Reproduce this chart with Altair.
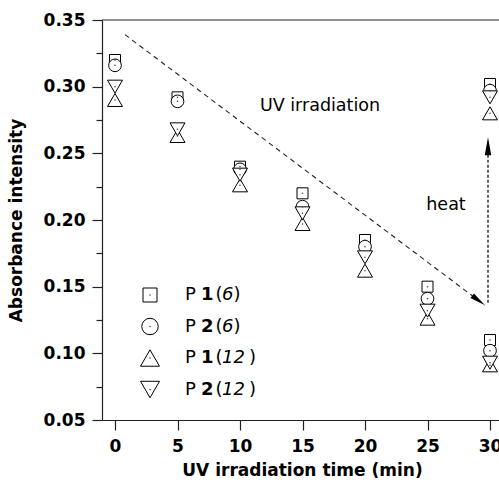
import math
import altair as alt
import pandas as pd

# Absorbance of the four samples during UV irradiation (0-30 min),
# followed by the recovered value after heating (last entry, also at 30 min)
time_min = [0, 5, 10, 15, 20, 25, 30, 30]
p1_6 = [0.320, 0.292, 0.240, 0.220, 0.185, 0.150, 0.110, 0.302]
p2_6 = [0.316, 0.289, 0.238, 0.210, 0.180, 0.141, 0.102, 0.297]
p1_12 = [0.290, 0.263, 0.226, 0.197, 0.162, 0.126, 0.091, 0.280]
p2_12 = [0.300, 0.268, 0.234, 0.205, 0.172, 0.132, 0.093, 0.292]

series_names = ["P1(6)", "P2(6)", "P1(12)", "P2(12)"]
series_values = [p1_6, p2_6, p1_12, p2_12]
legend_num = ["1", "2", "1", "2"]
legend_arm = ["6", "6", "12", "12"]

y_ticks = [0.05, 0.075, 0.10, 0.125, 0.15, 0.175, 0.20, 0.225, 0.25, 0.275, 0.30, 0.325, 0.35]
x_ticks = [0, 5, 10, 15, 20, 25, 30]

# ---- layout / style ----
FONT = "DejaVu Sans"
INK = "#222222"
PAD_L, PAD_T = 102, 20
W, H = 397, 400
X_DOM = [-1.04, 30.72]
Y_DOM = [0.05, 0.35]

shapes = ["square", "circle", "triangle-up", "triangle-down"]
plot_sizes = [121, 161, 225, 225]
legend_sizes = [196, 270, 361, 361]


def px_x(px):
    return X_DOM[0] + (px - PAD_L) / W * (X_DOM[1] - X_DOM[0])


def px_y(py):
    return Y_DOM[1] - (py - PAD_T) / H * (Y_DOM[1] - Y_DOM[0])


x_scale = alt.Scale(domain=X_DOM, nice=False, zero=False)
y_scale = alt.Scale(domain=Y_DOM, nice=False, zero=False)

major = "round(datum.value * 1000) % 50 === 0"

x_axis = alt.Axis(
    values=x_ticks, grid=False, tickSize=10, tickColor=INK, tickWidth=1.2,
    domainColor=INK, domainWidth=1.2, labelFont=FONT, labelFontSize=17,
    labelFontWeight="bold", labelColor="black", labelPadding=8,
    title="UV irradiation time (min)", titleFont=FONT, titleFontSize=17,
    titleFontWeight="bold", titleColor="black", titleX=200, titleY=50,
    titleAlign="center", titleBaseline="middle",
)
y_axis = alt.Axis(
    values=y_ticks, grid=False,
    tickSize={"condition": {"test": major, "value": 10}, "value": 6},
    labelExpr=f"{major} ? format(datum.value, '.2f') : ''",
    tickColor=INK, tickWidth=1.2, domainColor=INK, domainWidth=1.2,
    labelFont=FONT, labelFontSize=17, labelFontWeight="bold",
    labelColor="black", labelPadding=7,
    title="Absorbance intensity", titleFont=FONT, titleFontSize=17,
    titleFontWeight="bold", titleColor="black", titleX=-86, titleY=200,
    titleAngle=270, titleAlign="center", titleBaseline="middle",
)

X = lambda f: alt.X(f, type="quantitative", scale=x_scale, axis=x_axis)
Y = lambda f: alt.Y(f, type="quantitative", scale=y_scale, axis=y_axis)

layers = []

# top frame line
layers.append(
    alt.Chart(pd.DataFrame({"a": [0]})).mark_rule(color=INK, strokeWidth=1.2)
    .encode(x=alt.value(0), x2=alt.value(W), y=alt.value(0))
)

# dashed UV arrow (diagonal) and dotted heat arrow (vertical)
uv_start, uv_end = (0.8, 0.339), (29.6, 0.136)
heat_start, heat_end = (29.84, 0.138), (29.84, 0.262)
arrows = pd.DataFrame({
    "x": [uv_start[0], uv_end[0]], "y": [uv_start[1], uv_end[1]],
})
layers.append(
    alt.Chart(arrows).mark_line(color=INK, strokeWidth=1.1, strokeDash=[5, 4])
    .encode(x=X("x"), y=Y("y"))
)
heat_line = pd.DataFrame({
    "x": [heat_start[0], heat_end[0]], "y": [heat_start[1], heat_end[1] - 0.01],
})
layers.append(
    alt.Chart(heat_line).mark_line(color="#555555", strokeWidth=1.8, strokeDash=[3, 2])
    .encode(x=X("x"), y=Y("y"))
)

# arrowheads: tip at the origin of the path
head_path = "M0,0L0.36,2L-0.36,2Z"
dx_px = (uv_end[0] - uv_start[0]) / (X_DOM[1] - X_DOM[0]) * W
dy_px = (uv_start[1] - uv_end[1]) / (Y_DOM[1] - Y_DOM[0]) * H
uv_angle = 90 + math.degrees(math.atan2(dy_px, dx_px))
layers.append(
    alt.Chart(pd.DataFrame({"x": [uv_end[0]], "y": [uv_end[1]]}))
    .mark_point(shape=head_path, filled=True, color="black", size=256,
                angle=uv_angle, opacity=1)
    .encode(x=X("x"), y=Y("y"))
)
layers.append(
    alt.Chart(pd.DataFrame({"x": [heat_end[0]], "y": [heat_end[1]]}))
    .mark_point(shape=head_path, filled=True, color="black", size=324,
                angle=0, opacity=1)
    .encode(x=X("x"), y=Y("y"))
)

# annotations
notes = [("UV irradiation", 320, 106), ("heat", 446, 205)]
for txt, px, py in notes:
    layers.append(
        alt.Chart(pd.DataFrame({"x": [px_x(px)], "y": [px_y(py)], "t": [txt]}))
        .mark_text(font=FONT, fontSize=17.5, color="black", align="center",
                   baseline="middle")
        .encode(x=X("x"), y=Y("y"), text="t:N")
    )

# data markers, one layer per series so later series sit on top
dots = []
for name, vals, shp, sz in zip(series_names, series_values, shapes, plot_sizes):
    df = pd.DataFrame({"time": time_min, "abs": vals, "series": name})
    layers.append(
        alt.Chart(df).mark_point(shape=shp, size=sz, filled=True, fill="white",
                                 stroke="black", strokeWidth=1, opacity=1)
        .encode(x=X("time"), y=Y("abs"))
    )
    dots.append(df)

# legend symbols
leg_rows = [295, 326.5, 358, 389.5]
leg_sym_x = 150
for i, (shp, sz) in enumerate(zip(shapes, legend_sizes)):
    df = pd.DataFrame({"time": [px_x(leg_sym_x)], "abs": [px_y(leg_rows[i])]})
    layers.append(
        alt.Chart(df).mark_point(shape=shp, size=sz, filled=True, fill="white",
                                 stroke="black", strokeWidth=1, opacity=1)
        .encode(x=X("time"), y=Y("abs"))
    )
    dots.append(df)

# tiny centre dots of the open symbols
dot_df = pd.concat([d[["time", "abs"]] for d in dots], ignore_index=True)
layers.append(
    alt.Chart(dot_df).mark_circle(size=2.5, color="#444444", opacity=1)
    .encode(x=X("time"), y=Y("abs"))
)

# legend labels: "P " regular, number bold, arm length italic in brackets
reg, bold, ital = [], [], []
for i in range(4):
    yy = px_y(leg_rows[i])
    reg.append({"x": px_x(185), "y": yy, "t": "P"})
    reg.append({"x": px_x(215.5), "y": yy, "t": "("})
    close_px = 233.5 if len(legend_arm[i]) == 1 else 249
    reg.append({"x": px_x(close_px), "y": yy, "t": ")"})
    bold.append({"x": px_x(201), "y": yy, "t": legend_num[i]})
    ital.append({"x": px_x(222), "y": yy, "t": legend_arm[i]})

for rows, weight, style in [(reg, "normal", "normal"), (bold, "bold", "normal"),
                            (ital, "normal", "italic")]:
    layers.append(
        alt.Chart(pd.DataFrame(rows))
        .mark_text(font=FONT, fontSize=18, color="black", align="left",
                   baseline="middle", fontWeight=weight, fontStyle=style)
        .encode(x=X("x"), y=Y("y"), text="t:N")
    )

chart = (
    alt.layer(*layers)
    .properties(
        width=W, height=H,
        autosize=alt.AutoSizeParams(type="none"),
        padding={"left": PAD_L, "top": PAD_T, "right": 0, "bottom": 64},
        background="white",
    )
    .configure_view(stroke=None)
)

chart.save("out.html", embed_options={"renderer": "svg", "actions": False})
